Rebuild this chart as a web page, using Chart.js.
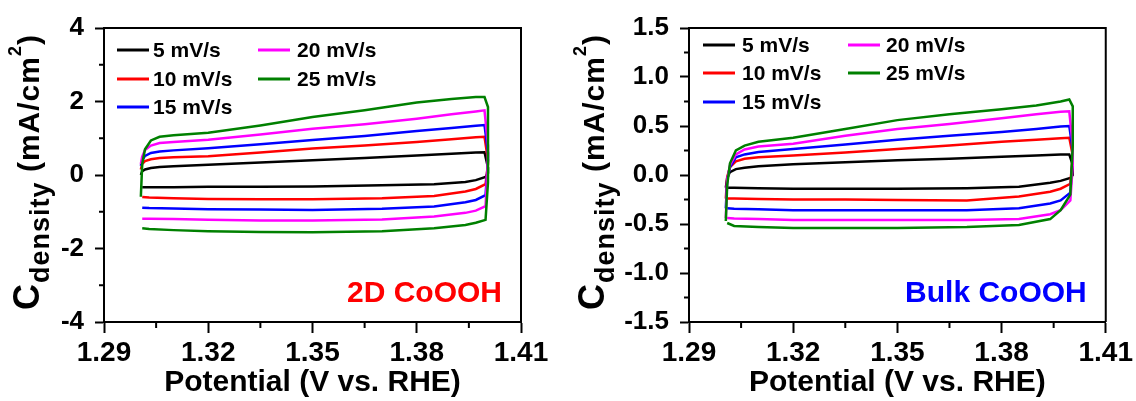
<!DOCTYPE html>
<html>
<head>
<meta charset="utf-8">
<script src="https://cdn.jsdelivr.net/npm/chart.js@4.4.1/dist/chart.umd.min.js"></script>
<style>
  body { margin: 0; background: #fff; }
  #wrap { position: relative; width: 1136px; height: 401px; }
  canvas { position: absolute; top: 0; }
  #left { left: 0; }
  #right { left: 568px; }
</style>
</head>
<body>
<div id="wrap">
  <canvas id="left" width="568" height="401"></canvas>
  <canvas id="right" width="568" height="401"></canvas>
</div>
<script>
'use strict';

const scanRates = ['5 mV/s', '10 mV/s', '15 mV/s', '20 mV/s', '25 mV/s'];
const lineColors = ['#000000', '#ff0000', '#0000ff', '#ff00ff', '#008000'];

// potentials of the forward (anodic) and reverse (cathodic) sweeps
const potentialFwd = [1.3006, 1.3010, 1.3018, 1.3035, 1.306, 1.31, 1.32, 1.335, 1.35, 1.365, 1.38, 1.39, 1.397, 1.3995, 1.4005];
const potentialRev = [1.4005, 1.3998, 1.397, 1.394, 1.385, 1.37, 1.35, 1.335, 1.32, 1.31, 1.303, 1.3010];

// 2D CoOOH, mA/cm2
const twoDFwd5 = [0.00, 0.10, 0.15, 0.19, 0.22, 0.24, 0.28, 0.34, 0.40, 0.46, 0.53, 0.58, 0.61, 0.62, 0.20];
const twoDRev5 = [0.05, -0.05, -0.14, -0.19, -0.25, -0.28, -0.31, -0.32, -0.32, -0.33, -0.33, -0.33];
const twoDFwd10 = [0.15, 0.30, 0.38, 0.43, 0.46, 0.48, 0.51, 0.61, 0.72, 0.80, 0.90, 0.97, 1.03, 1.04, 0.40];
const twoDRev10 = [0.30, -0.25, -0.38, -0.45, -0.57, -0.63, -0.66, -0.66, -0.65, -0.63, -0.61, -0.60];
const twoDFwd15 = [0.25, 0.40, 0.52, 0.60, 0.64, 0.67, 0.73, 0.84, 0.95, 1.06, 1.20, 1.28, 1.34, 1.36, 0.60];
const twoDRev15 = [0.40, -0.55, -0.68, -0.74, -0.86, -0.92, -0.95, -0.94, -0.93, -0.91, -0.90, -0.89];
const twoDFwd20 = [0.30, 0.50, 0.68, 0.80, 0.87, 0.90, 0.96, 1.10, 1.26, 1.38, 1.53, 1.65, 1.73, 1.76, 0.80];
const twoDRev20 = [0.50, -0.85, -0.97, -1.03, -1.13, -1.21, -1.24, -1.24, -1.22, -1.20, -1.19, -1.19];
const twoDFwd25 = [-0.59, 0.30, 0.70, 0.94, 1.04, 1.08, 1.15, 1.35, 1.58, 1.76, 1.97, 2.07, 2.12, 2.12, 1.85];
const twoDRev25 = [-0.20, -1.22, -1.30, -1.36, -1.45, -1.53, -1.56, -1.55, -1.53, -1.50, -1.47, -1.45];

// Bulk CoOOH, mA/cm2
const bulkFwd5 = [-0.13, -0.03, 0.03, 0.06, 0.075, 0.09, 0.11, 0.13, 0.15, 0.165, 0.185, 0.20, 0.21, 0.21, 0.10];
const bulkRev5 = [0.00, -0.03, -0.06, -0.08, -0.12, -0.135, -0.14, -0.14, -0.14, -0.135, -0.13, -0.13];
const bulkFwd10 = [-0.24, -0.02, 0.08, 0.14, 0.165, 0.18, 0.20, 0.23, 0.265, 0.30, 0.34, 0.36, 0.375, 0.38, 0.20];
const bulkRev10 = [0.20, -0.09, -0.14, -0.17, -0.22, -0.26, -0.255, -0.25, -0.25, -0.245, -0.24, -0.24];
const bulkFwd15 = [-0.34, -0.05, 0.08, 0.18, 0.21, 0.235, 0.265, 0.31, 0.36, 0.40, 0.44, 0.47, 0.495, 0.50, 0.25];
const bulkRev15 = [0.20, -0.18, -0.26, -0.29, -0.34, -0.36, -0.36, -0.36, -0.36, -0.35, -0.345, -0.34];
const bulkFwd20 = [-0.44, -0.05, 0.10, 0.21, 0.26, 0.29, 0.32, 0.40, 0.47, 0.52, 0.58, 0.62, 0.645, 0.65, 0.30];
const bulkRev20 = [0.10, -0.26, -0.36, -0.40, -0.45, -0.46, -0.46, -0.46, -0.46, -0.45, -0.445, -0.44];
const bulkFwd25 = [-0.47, -0.10, 0.12, 0.25, 0.30, 0.34, 0.38, 0.47, 0.56, 0.62, 0.67, 0.71, 0.75, 0.77, 0.70];
const bulkRev25 = [0.30, -0.20, -0.36, -0.45, -0.51, -0.53, -0.54, -0.54, -0.54, -0.53, -0.52, -0.49];

const xTicks = [1.29, 1.32, 1.35, 1.38, 1.41];
const xMinor = [1.305, 1.335, 1.365, 1.395];
const yTicks2D = [-4, -2, 0, 2, 4];
const yMinor2D = [-3, -1, 1, 3];
const yTicksBulk = [-1.5, -1.0, -0.5, 0, 0.5, 1.0, 1.5];
const yMinorBulk = [-1.25, -0.75, -0.25, 0.25, 0.75, 1.25];

const FONT = "'Liberation Sans', Arial, sans-serif";
Chart.defaults.font.family = FONT;
Chart.defaults.font.weight = 'bold';
Chart.defaults.color = '#000';

function loop(fwd, rev) {
  let pts = [];
  fwd.forEach((v, i) => pts.push({ x: potentialFwd[i], y: v }));
  rev.forEach((v, i) => pts.push({ x: potentialRev[i], y: v }));
  return pts;
}

function makeDatasets(fwds, revs) {
  let sets = [];
  // green first so it is painted on top
  for (let i = fwds.length - 1; i >= 0; i--) {
    sets.push({
      label: scanRates[i],
      data: loop(fwds[i], revs[i]),
      showLine: true,
      borderColor: lineColors[i],
      borderWidth: 2.5,
      pointRadius: 0,
      tension: 0
    });
  }
  return sets;
}

const decor = {
  id: 'decor',
  afterDraw(chart, args, o) {
    const ctx = chart.ctx;
    const a = chart.chartArea;
    const xs = chart.scales.x;
    const ys = chart.scales.y;
    ctx.save();
    ctx.strokeStyle = '#000';
    ctx.lineWidth = 2;
    ctx.beginPath();
    ctx.moveTo(a.left, a.top);
    ctx.lineTo(a.right, a.top);
    ctx.lineTo(a.right, a.bottom);
    ctx.stroke();

    // minor ticks
    ctx.beginPath();
    o.xMinor.forEach(v => {
      let px = xs.getPixelForValue(v);
      ctx.moveTo(px, a.bottom);
      ctx.lineTo(px, a.bottom + 6);
    });
    o.yMinor.forEach(v => {
      let py = ys.getPixelForValue(v);
      ctx.moveTo(a.left, py);
      ctx.lineTo(a.left - 5, py);
    });
    ctx.stroke();

    // legend, two columns
    ctx.font = 'bold 21px ' + FONT;
    ctx.textBaseline = 'middle';
    ctx.textAlign = 'left';
    scanRates.forEach((name, i) => {
      let col = i < 3 ? 0 : 1;
      let row = i < 3 ? i : i - 3;
      let y = a.top + o.rowY[row];
      ctx.strokeStyle = lineColors[i];
      ctx.lineWidth = 3;
      ctx.beginPath();
      ctx.moveTo(a.left + o.lineX[col], y);
      ctx.lineTo(a.left + o.lineX[col] + 32, y);
      ctx.stroke();
      ctx.fillStyle = '#000';
      ctx.fillText(name, a.left + o.textX[col], y + 1);
    });

    // sample name
    ctx.font = 'bold 30px ' + FONT;
    ctx.textAlign = 'right';
    ctx.textBaseline = 'alphabetic';
    ctx.fillStyle = o.nameColor;
    ctx.fillText(o.name, a.right - 19, a.bottom - 20);

    // y title with sub and superscript
    const parts = [
      ['C', 36, 0],
      ['density', 27, 10],
      [' (mA/cm', 30, 0],
      ['2', 18, -18],
      [')', 30, 0]
    ];
    ctx.letterSpacing = '1px';
    let total = 0;
    parts.forEach(p => {
      ctx.font = 'bold ' + p[1] + 'px ' + FONT;
      total += ctx.measureText(p[0]).width;
    });
    ctx.translate(o.titleX, 172);
    ctx.rotate(-Math.PI / 2);
    ctx.textAlign = 'left';
    ctx.fillStyle = '#000';
    let cx = -total / 2;
    parts.forEach(p => {
      ctx.font = 'bold ' + p[1] + 'px ' + FONT;
      ctx.fillText(p[0], cx, p[2]);
      cx += ctx.measureText(p[0]).width;
    });
    ctx.restore();
  }
};

function makeChart(canvasId, datasets, yMin, yMax, yTicks, yMinor, yFmt, yWidth, padRight, deco) {
  return new Chart(document.getElementById(canvasId), {
    type: 'scatter',
    data: { datasets: datasets },
    options: {
      responsive: false,
      animation: false,
      layout: { padding: { left: 0, top: 28, right: padRight, bottom: 0 } },
      plugins: {
        legend: { display: false },
        tooltip: { enabled: false },
        decor: deco
      },
      scales: {
        x: {
          type: 'linear',
          min: 1.29,
          max: 1.41,
          afterBuildTicks: s => { s.ticks = xTicks.map(v => ({ value: v })); },
          afterFit: s => { s.height = 79; },
          ticks: {
            font: { size: 28, weight: 'bold' },
            padding: 3,
            maxRotation: 0,
            callback: v => v.toFixed(2)
          },
          grid: { drawOnChartArea: false, tickLength: 11, tickWidth: 2, tickColor: '#000' },
          border: { display: true, width: 2, color: '#000' },
          title: {
            display: true,
            text: 'Potential (V vs. RHE)',
            font: { size: 30, weight: 'bold' },
            padding: { top: 0, bottom: 0 }
          }
        },
        y: {
          type: 'linear',
          min: yMin,
          max: yMax,
          afterBuildTicks: s => { s.ticks = yTicks.map(v => ({ value: v })); },
          afterFit: s => { s.width = yWidth; },
          ticks: {
            font: { size: 26, weight: 'bold' },
            padding: 11,
            callback: yFmt
          },
          grid: { drawOnChartArea: false, tickLength: 9, tickWidth: 2, tickColor: '#000' },
          border: { display: true, width: 2, color: '#000' }
        }
      }
    },
    plugins: [decor]
  });
}

makeChart('left',
  makeDatasets([twoDFwd5, twoDFwd10, twoDFwd15, twoDFwd20, twoDFwd25],
               [twoDRev5, twoDRev10, twoDRev15, twoDRev20, twoDRev25]),
  -4, 4, yTicks2D, yMinor2D, v => String(v), 104, 47,
  { xMinor: xMinor, yMinor: yMinor2D, lineX: [13, 154], textX: [49, 193], rowY: [22, 51, 79],
    name: '2D CoOOH', nameColor: '#ff0000', titleX: 39 });

makeChart('right',
  makeDatasets([bulkFwd5, bulkFwd10, bulkFwd15, bulkFwd20, bulkFwd25],
               [bulkRev5, bulkRev10, bulkRev15, bulkRev20, bulkRev25]),
  -1.5, 1.5, yTicksBulk, yMinorBulk, v => v.toFixed(1), 121, 29,
  { xMinor: xMinor, yMinor: yMinorBulk, lineX: [14, 159], textX: [53, 197], rowY: [17, 45, 74],
    name: 'Bulk CoOOH', nameColor: '#0000ff', titleX: 36 });
</script>
</body>
</html>
